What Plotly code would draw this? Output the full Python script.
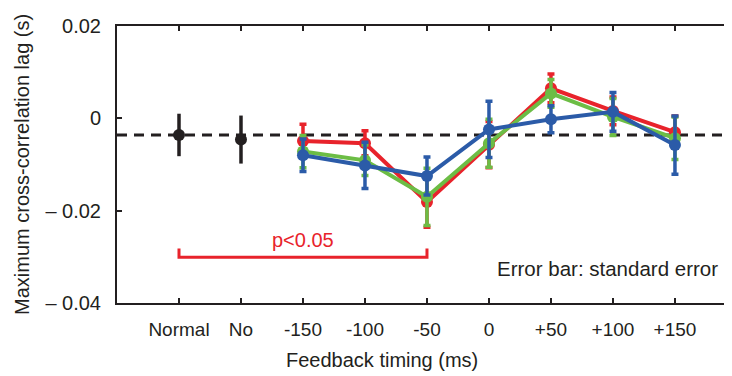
import plotly.graph_objects as go

categories = ["Normal", "No", "-150", "-100", "-50", "0", "+50", "+100", "+150"]
timing_cats = ["-150", "-100", "-50", "0", "+50", "+100", "+150"]
baseline_cats = ["Normal", "No"]

baseline_mean = [-0.0036, -0.0046]
baseline_se = [0.0046, 0.0052]

red_mean = [-0.0049, -0.0054, -0.0181, -0.0057, 0.0065, 0.0016, -0.0030]
red_se = [0.0036, 0.0027, 0.0055, 0.0050, 0.0031, 0.0030, 0.0035]
green_mean = [-0.0072, -0.0091, -0.0170, -0.0054, 0.0054, 0.0003, -0.0043]
green_se = [0.0035, 0.0033, 0.0062, 0.0052, 0.0030, 0.0040, 0.0046]
blue_mean = [-0.0080, -0.0102, -0.0125, -0.0024, -0.0002, 0.0014, -0.0058]
blue_se = [0.0035, 0.0050, 0.0041, 0.0061, 0.0029, 0.0042, 0.0063]

ref_level = -0.0036
ytick_vals = [0.02, 0, -0.02, -0.04]
ytick_text = ["0.02", "0", "\u2013 0.02", "\u2013 0.04"]

bracket_from, bracket_to = "Normal", "-50"
bracket_y, bracket_tip = -0.0301, -0.0282

RED, GREEN, BLUE, BLACK = "#E8232B", "#6CBD45", "#2B5BA8", "#231F20"
FONT = "Liberation Sans, Arial, sans-serif"
FS = 20

fig = go.Figure()

# reference dashed line
fig.add_shape(type="line", xref="paper", yref="y", x0=0, x1=1, y0=ref_level, y1=ref_level,
              line=dict(color=BLACK, width=3, dash="10px,7px"), layer="below")

fig.add_trace(go.Scatter(
    x=baseline_cats, y=baseline_mean, mode="markers",
    marker=dict(color=BLACK, size=12),
    error_y=dict(type="data", array=baseline_se, color=BLACK, thickness=3.5, width=0),
    showlegend=False))

for mean, se, col in [(red_mean, red_se, RED), (green_mean, green_se, GREEN), (blue_mean, blue_se, BLUE)]:
    fig.add_trace(go.Scatter(
        x=timing_cats, y=mean, mode="lines+markers",
        line=dict(color=col, width=4),
        marker=dict(color=col, size=12),
        error_y=dict(type="data", array=se, color=col, thickness=3.5, width=3.5),
        showlegend=False))

# significance bracket
i0, i1 = categories.index(bracket_from), categories.index(bracket_to)
fig.add_trace(go.Scatter(
    x=[categories[i0], categories[i0], categories[i1], categories[i1]],
    y=[bracket_tip, bracket_y, bracket_y, bracket_tip],
    mode="lines", line=dict(color=RED, width=3), showlegend=False, hoverinfo="skip"))

fig.add_annotation(x=(i0 + i1) / 2, y=bracket_y, xref="x", yref="y", text="p<0.05",
                   showarrow=False, yshift=17, font=dict(color=RED, size=FS, family=FONT))
fig.add_annotation(x=1, y=0, xref="paper", yref="paper", text="Error bar: standard error",
                   showarrow=False, xanchor="right", yanchor="middle", xshift=-12, yshift=35,
                   font=dict(color=BLACK, size=FS + 0.5, family=FONT))
fig.add_annotation(x=3.27, y=0, xref="x", yref="paper", text="Feedback timing (ms)",
                   showarrow=False, yanchor="middle", yshift=-57,
                   font=dict(color=BLACK, size=FS, family=FONT))
fig.add_annotation(x=0, y=0.5, xref="paper", yref="paper", text="Maximum cross-correlation lag (s)",
                   showarrow=False, textangle=-90, xanchor="center", yanchor="middle", xshift=-95.5,
                   font=dict(color=BLACK, size=FS, family=FONT))

fig.update_layout(
    width=724, height=368,
    margin=dict(l=109, r=0, t=18, b=73),
    plot_bgcolor="white", paper_bgcolor="white",
    font=dict(family=FONT, size=FS, color=BLACK),
    xaxis=dict(type="category", categoryorder="array", categoryarray=categories,
               range=[-1, 8.92], showline=True, linecolor=BLACK, linewidth=2,
               mirror="ticks", ticks="inside", ticklen=5, tickwidth=2, tickcolor=BLACK,
               showgrid=False, zeroline=False, ticklabelstandoff=8, automargin=False,
               tickfont=dict(size=19)),
    yaxis=dict(range=[-0.04, 0.02], tickvals=ytick_vals, ticktext=ytick_text,
               showline=True, linecolor=BLACK, linewidth=2, ticks="inside", ticklen=5,
               tickwidth=2, tickcolor=BLACK, showgrid=False, zeroline=False,
               ticklabelstandoff=10, automargin=False),
)

fig.write_html("out.html")
